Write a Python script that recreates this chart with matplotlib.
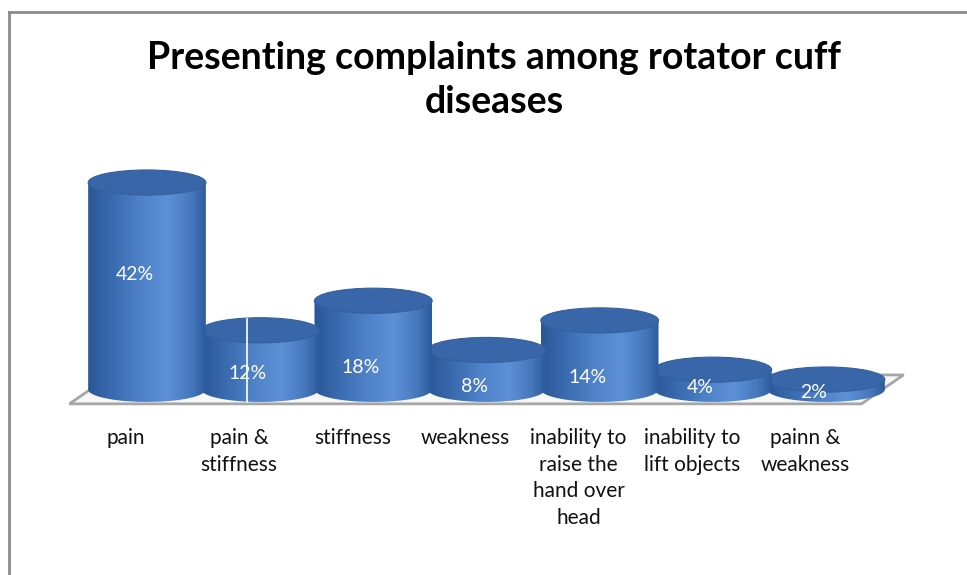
import numpy as np
import matplotlib
matplotlib.use('Agg')
import matplotlib.pyplot as plt
from matplotlib.patches import Ellipse, PathPatch, Polygon
from matplotlib.path import Path
from matplotlib.colors import LinearSegmentedColormap
from matplotlib.lines import Line2D

# complaint categories and share of patients (%)
categories = ['pain', 'pain &\nstiffness', 'stiffness', 'weakness',
              'inability to\nraise the\nhand over\nhead',
              'inability to\nlift objects', 'painn &\nweakness']
values = [42, 12, 18, 8, 14, 4, 2]
value_labels = ['%d%%' % v for v in values]

# where the value labels sit (in % units on the bar)
label_y = [23.4, 3.3, 4.5, 0.5, 2.5, 0.3, -0.7]

W, H = 967, 575
fig = plt.figure(figsize=(W / 100, H / 100), dpi=100)
fig.patch.set_facecolor('white')
ax = fig.add_axes([0, 0, 1, 1])
ax.set_axis_off()

font = 'Lato'

# 3d look: width of a cylinder, depth of the ellipse and floor offset
bw = 1.04
eh = 5.1
dx, dy = 0.186, 2.94

body_cmap = LinearSegmentedColormap.from_list(
    'cyl', [(0.0, '#2a5794'), (0.12, '#3362a6'), (0.45, '#4f82c8'),
            (0.68, '#5d91d6'), (0.88, '#4677bd'), (1.0, '#2d5b9c')])
grad = np.linspace(0, 1, 256).reshape(1, -1)

# floor
n = len(values)
floor = Polygon([(-0.5 - dx, -dy), (n - 0.5 - dx, -dy),
                 (n - 0.5 + dx, dy), (-0.5 + dx, dy)],
                closed=True, facecolor='#f7f7f7', edgecolor='#a6a6a6',
                lw=2.0, zorder=1)
ax.add_patch(floor)

for i in range(n - 1, -1, -1):
    v = values[i]
    z = 10 + (n - i) * 3
    xl, xr = i - bw / 2, i + bw / 2
    th = np.linspace(np.pi, 2 * np.pi, 60)
    verts = [(xl, v), (xl, 0)]
    verts += list(zip(i + bw / 2 * np.cos(th), eh / 2 * np.sin(th)))
    verts += [(xr, v), (xl, v)]
    codes = [Path.MOVETO] + [Path.LINETO] * (len(verts) - 2) + [Path.CLOSEPOLY]
    body = PathPatch(Path(verts, codes), facecolor='none', edgecolor='none', zorder=z)
    ax.add_patch(body)
    im = ax.imshow(grad, cmap=body_cmap, extent=[xl, xr, -eh / 2, v],
                   aspect='auto', interpolation='bilinear', zorder=z)
    im.set_clip_path(body)
    top = Ellipse((i, v), bw, eh, facecolor='#3966a8', edgecolor='#33609f',
                  lw=0.8, zorder=z + 1)
    ax.add_patch(top)
    ax.text(i - 0.11, label_y[i], value_labels[i], color='white', fontsize=14,
            family=font, ha='center', va='center', zorder=z + 2)
    if i == 1:
        # thin white seam running down the second cylinder
        ax.plot([i - 0.115, i - 0.115], [-eh / 2, v + eh / 2 - 0.3],
                color='white', lw=1.2, zorder=z + 2)

for i, c in enumerate(categories):
    ax.text(i - dx, -7.8, c, ha='center', va='top', fontsize=15,
            family=font, color='#111111', linespacing=1.42)

ax.set_xlim(-1.299, 7.246)
ax.set_ylim(-37.69, 79.06)

fig.text(494 / W, 1 - 41 / H, 'Presenting complaints among rotator cuff\ndiseases',
         ha='center', va='top', fontsize=27, fontweight='bold', family=font,
         linespacing=1.35)

# chart frame
fig.add_artist(Line2D([9 / W, 1], [1 - 12 / H, 1 - 12 / H], color='#8c8c8c', lw=2))
fig.add_artist(Line2D([9 / W, 9 / W], [0, 1 - 12 / H], color='#8c8c8c', lw=2))

fig.savefig('out.png', dpi=100)
